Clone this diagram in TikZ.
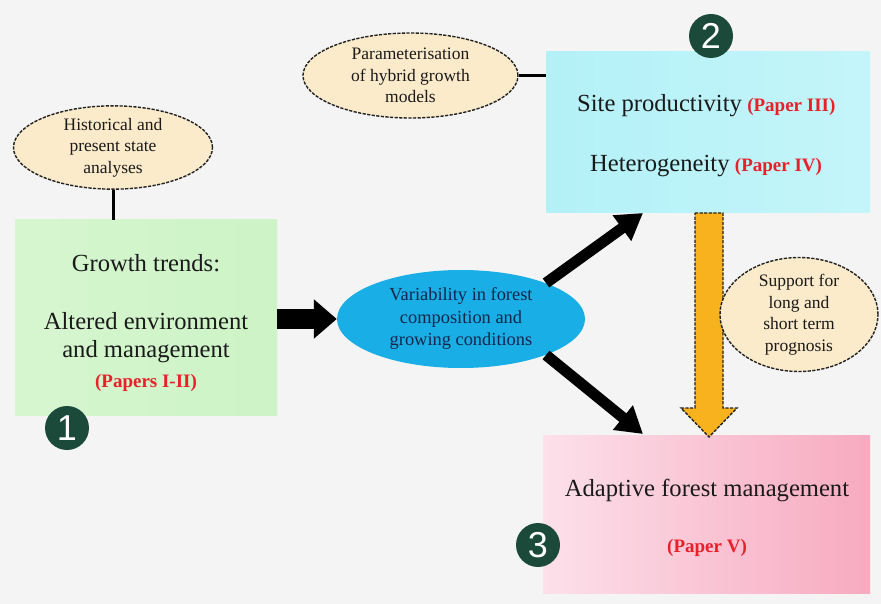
\documentclass[tikz,border=0pt]{standalone}
\usepackage{fontspec}
\setmainfont{Liberation Serif}
\newfontfamily\numfont{Liberation Sans}
\usetikzlibrary{arrows.meta,shapes.geometric,calc}
\definecolor{bgc}{HTML}{F4F4F4}
\definecolor{peach}{HTML}{FCEBCB}
\definecolor{dashc}{HTML}{222222}
\definecolor{skyb}{HTML}{1AAEE6}
\definecolor{navy}{HTML}{14264A}
\definecolor{redp}{HTML}{E8202A}
\definecolor{dgreen}{HTML}{1B4A3A}
\definecolor{orng}{HTML}{F7B21E}
\definecolor{txt}{HTML}{1A1A1A}
\definecolor{gl}{HTML}{D6F6CF}
\definecolor{gr}{HTML}{CDF3C6}
\definecolor{cl}{HTML}{B3F1F7}
\definecolor{cr}{HTML}{C4F5FA}
\definecolor{pl}{HTML}{FCE0EA}
\definecolor{pr}{HTML}{F7AAC0}
\begin{document}
\begin{tikzpicture}[x=1pt,y=-1pt,
  box/.style={draw=none, minimum width=#1, inner sep=0pt},
  note/.style={ellipse, draw=dashc, dashed, dash pattern=on 3.2pt off 1.4pt, line width=1.4pt, fill=peach, inner sep=0pt, align=center, text=txt, font=\fontsize{17.5}{21.5}\selectfont},
  lbl/.style={text=txt, font=\fontsize{24.6}{30}\selectfont, inner sep=0pt},
  red/.style={text=redp, font=\fontsize{19}{23}\selectfont\bfseries, inner sep=0pt},
  num/.style={circle, fill=dgreen, text=white, inner sep=0pt, minimum size=44pt, font=\numfont\fontsize{36}{36}\selectfont},
  link/.style={line width=3pt, draw=black},
  bigarrow/.style={line width=11pt, draw=black, -{Triangle[length=26pt,width=30pt]}}
]
\fill[bgc] (0,0) rectangle (881,604);
\useasboundingbox (0,0) rectangle (881,604);

% boxes
\node[box=262pt, minimum height=195pt, left color=gl, right color=gr] (g) at (146,317.5) {};
\node[box=324pt, minimum height=161pt, left color=cl, right color=cr] (c) at (708,132.5) {};
\node[box=327pt, minimum height=158pt, left color=pl, right color=pr] (p) at (706.5,514) {};

% box texts
\node[lbl] (g1) at (146,263) {Growth trends:};
\node[lbl] (g2) at (146,321) {Altered environment};
\node[lbl] (g3) at (146,352) {and management};
\node[red] (g4) at (146,383) {(Papers I-II)};

\node[lbl, anchor=base west] (c1) at (577,112) {Site productivity};
\node[red, anchor=base west] (c1r) at ($(c1.base east)+(5,0)$) {(Paper III)};
\node[lbl, anchor=base west] (c2) at (590,172) {Heterogeneity};
\node[red, anchor=base west] (c2r) at ($(c2.base east)+(5,0)$) {(Paper IV)};

\node[lbl] (p1) at (707,490) {Adaptive forest management};
\node[red] (p2) at (707,548) {(Paper V)};

% central ellipse
\node[ellipse, fill=skyb, minimum width=248pt, minimum height=98pt, inner sep=0pt, align=center, text=navy, font=\fontsize{18.4}{22.5}\selectfont] (v) at (461,319) {Variability in forest\\composition and\\growing conditions};

% notes
\node[note, minimum width=199pt, minimum height=81pt] (h) at (113,147.5) {Historical and\\present state\\analyses};
\node[note, minimum width=215pt, minimum height=85pt] (m) at (410.5,75.5) {Parameterisation\\of hybrid growth\\models};

% links
\draw[link] (h.south) -- (h.south |- g.north);
\draw[link] (m.east) -- (m.east -| c.west);

% orange arrow
\coordinate (oa) at (709,213);
\coordinate (ob) at (709,437);
\draw[draw=dashc, dashed, dash pattern=on 3.2pt off 1.4pt, line width=1.4pt, fill=orng]
  ($(oa)+(-14,0)$) -- ($(oa)+(14,0)$) -- ($(ob)+(14,-29)$) -- ($(ob)+(28,-29)$) -- (ob)
  -- ($(ob)+(-28,-29)$) -- ($(ob)+(-14,-29)$) -- cycle;

\node[note, minimum width=158pt, minimum height=95pt] (s) at (799,314.5) {Support for\\long and\\short term\\prognosis};

% black arrows
\draw[line width=20pt, -{Triangle[length=23pt,width=38pt]}] (g.east |- v.west) -- (v.west);
\coordinate (ua) at (546,283);
\coordinate (ub) at (643,213);
\coordinate (la) at (546,355);
\coordinate (lb) at (643,434);
\draw[bigarrow] (ua) -- (ub);
\draw[bigarrow] (la) -- (lb);

% numbers
\node[num] (n1) at (67,428) {1};
\node[num] (n2) at (711,36) {2};
\node[num] (n3) at (538,545) {3};
\end{tikzpicture}
\end{document}
